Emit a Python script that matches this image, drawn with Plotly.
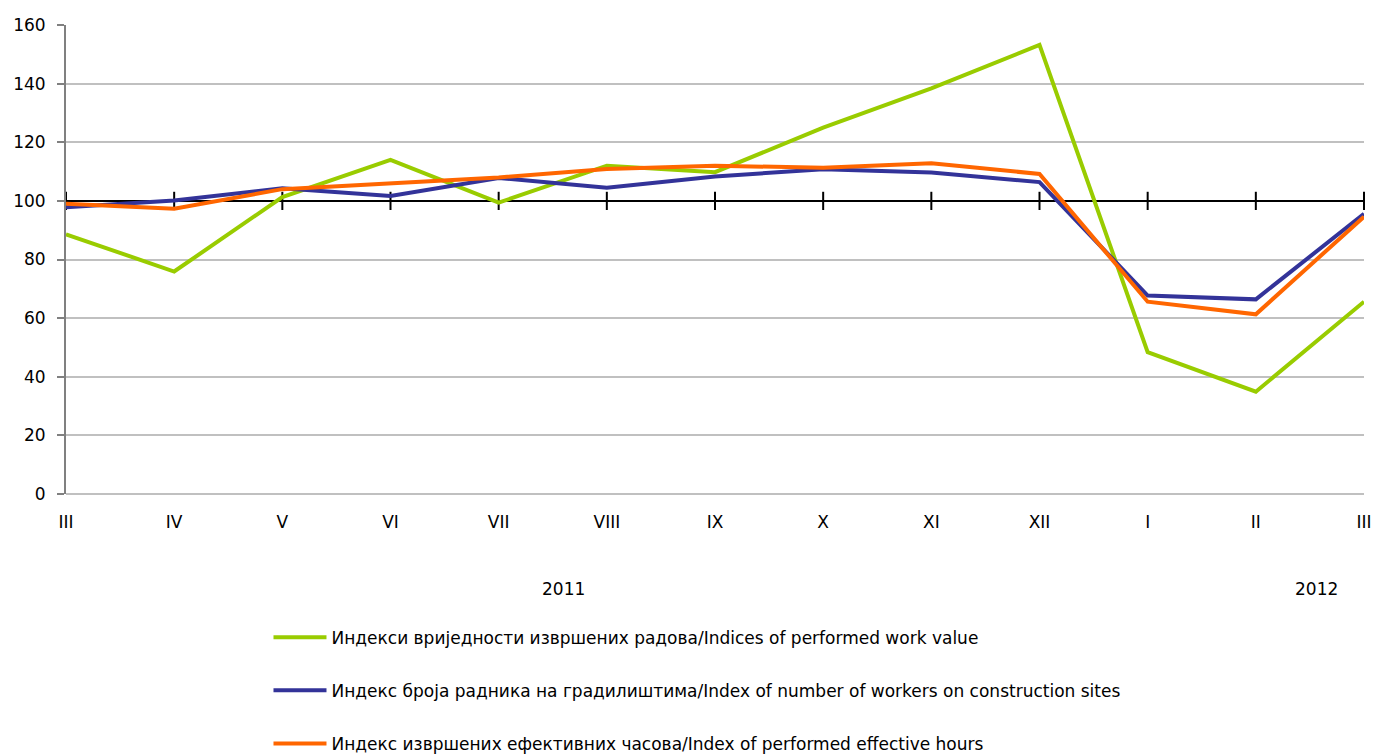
import plotly.graph_objects as go

months = ["III", "IV", "V", "VI", "VII", "VIII", "IX", "X", "XI", "XII", "I", "II", "III"]
work_value = [88.6, 75.9, 101.3, 114.0, 99.4, 112.0, 109.8, 125.0, 138.4, 153.2, 48.4, 34.9, 65.6]
workers = [97.8, 100.1, 104.3, 101.7, 107.8, 104.5, 108.3, 110.8, 109.7, 106.4, 67.7, 66.4, 95.6]
hours = [99.0, 97.3, 104.0, 106.1, 108.0, 110.9, 112.0, 111.3, 112.8, 109.2, 65.6, 61.3, 94.6]
base_value = 100
years = ["2011", "2012"]
year_pos = [4.6, 11.56]

names = [
    "Индекси вриједности извршених радова/Indices of performed work value",
    "Индекс броја радника на градилиштима/Index of number of workers on construction sites",
    "Индекс извршених ефективних часова/Index of performed effective hours",
]
colors = ["#99CC00", "#333399", "#FF6600"]

x = list(range(len(months)))
FONT = "DejaVu Sans, Verdana, sans-serif"

fig = go.Figure()
# reference line at 100 with crossing ticks
fig.add_trace(go.Scatter(
    x=x, y=[base_value] * len(x), mode="lines+markers",
    line=dict(color="black", width=2),
    marker=dict(symbol="line-ns-open", size=13, line=dict(color="black", width=2)),
    showlegend=False, hoverinfo="skip", cliponaxis=False,
))
for i, (vals, nm, c) in enumerate(zip([work_value, workers, hours], names, colors)):
    fig.add_trace(go.Scatter(
        x=x, y=vals, mode="lines", name=nm, legendgroup=f"g{i}",
        line=dict(color=c, width=4), cliponaxis=False,
    ))

for yr, xp in zip(years, year_pos):
    fig.add_annotation(x=xp, y=0, xref="x", yref="paper", yshift=-95,
                       yanchor="middle", text=yr, showarrow=False,
                       font=dict(family=FONT, size=17, color="black"))

fig.update_layout(
    width=1378, height=756,
    margin=dict(l=66, r=14, t=25, b=262, autoexpand=False),
    paper_bgcolor="white", plot_bgcolor="white",
    font=dict(family=FONT, size=17, color="black"),
    legend=dict(x=0.156, xanchor="left", y=-0.268, yanchor="top",
                orientation="v", tracegroupgap=28,
                font=dict(family=FONT, size=17, color="black"),
                itemwidth=53),
    xaxis=dict(range=[0, 12], tickvals=x, ticktext=months, showgrid=False,
               zeroline=False, showline=False, ticks="", ticklabelstandoff=16,
               automargin=False, ticklabeloverflow="allow",
               tickfont=dict(family=FONT, size=17)),
    yaxis=dict(range=[0, 160], dtick=20, showgrid=True, gridcolor="#C0C0C0",
               gridwidth=2, zeroline=True, zerolinecolor="#C0C0C0", zerolinewidth=2,
               showline=True, linecolor="#808080",
               linewidth=2, ticks="outside", ticklen=7, tickcolor="#808080",
               tickwidth=2, ticklabelstandoff=8, automargin=False,
               tickfont=dict(family=FONT, size=17)),
)

fig.write_html("out.html", config={"displayModeBar": False},
               post_script="document.body.style.margin='0px';document.body.style.overflow='hidden';")
